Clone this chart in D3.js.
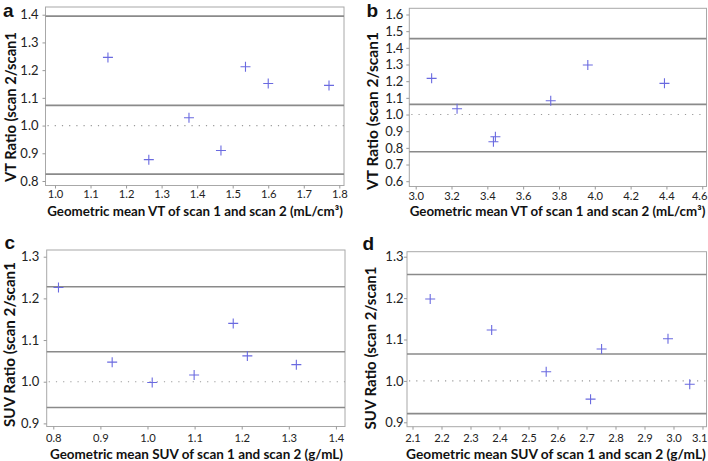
<!DOCTYPE html>
<html><head><meta charset="utf-8">
<script src="https://cdn.jsdelivr.net/npm/d3@7"></script>
<style>
html,body{margin:0;padding:0;background:#fff;}
svg{display:block;}
</style></head>
<body>
<svg id="chart" width="708" height="461"></svg>
<script>
// ---- data ----
const panelLetters = ["a", "b", "c", "d"];
const yTitles = ["VT Ratio (scan 2/scan1", "VT Ratio (scan 2/scan1", "SUV Ratio (scan 2/scan1", "SUV Ratio (scan 2/scan1"];
const xTitleVT = "Geometric mean VT of scan 1 and scan 2 (mL/cm\u00B3)";
const xTitleSUV = "Geometric mean SUV of scan 1 and scan 2 (g/mL)";

const aX = [1.149, 1.264, 1.377, 1.467, 1.536, 1.600, 1.771];
const aY = [1.246, 0.877, 1.028, 0.910, 1.212, 1.152, 1.145];
const aLimits = [1.395, 1.073, 0.825];
const aXTicks = [1.0, 1.1, 1.2, 1.3, 1.4, 1.5, 1.6, 1.7, 1.8];
const aYTicks = [0.8, 0.9, 1.0, 1.1, 1.2, 1.3, 1.4];

const bX = [3.089, 3.231, 3.434, 3.445, 3.754, 3.961, 4.389];
const bY = [1.217, 1.035, 0.837, 0.867, 1.083, 1.297, 1.187];
const bLimits = [1.455, 1.061, 0.777];
const bXTicks = [3.0, 3.2, 3.4, 3.6, 3.8, 4.0, 4.2, 4.4, 4.6];
const bYTicks = [0.6, 0.7, 0.8, 0.9, 1.0, 1.1, 1.2, 1.3, 1.4, 1.5, 1.6];

const cX = [0.811, 0.925, 1.010, 1.099, 1.182, 1.212, 1.316];
const cY = [1.226, 1.047, 0.998, 1.016, 1.140, 1.062, 1.041];
const cLimits = [1.228, 1.072, 0.938];
const cXTicks = [0.8, 0.9, 1.0, 1.1, 1.2, 1.3, 1.4];
const cYTicks = [0.9, 1.0, 1.1, 1.2, 1.3];

const dX = [2.161, 2.373, 2.561, 2.714, 2.752, 2.981, 3.056];
const dY = [1.198, 1.123, 1.022, 0.956, 1.077, 1.102, 0.992];
const dLimits = [1.257, 1.065, 0.921];
const dXTicks = [2.1, 2.2, 2.3, 2.4, 2.5, 2.6, 2.7, 2.8, 2.9, 3.0, 3.1];
const dYTicks = [0.9, 1.0, 1.1, 1.2, 1.3];

const refLine = 1.0;

// ---- layout ----
const panels = [
  {letter: panelLetters[0], xs: aX, ys: aY, limits: aLimits, xt: aXTicks, yt: aYTicks,
   xDom: [0.9733, 1.8132], yDom: [0.7838, 1.4278], L: 45.5, R: 344, T: 7, B: 185.5,
   yTitle: yTitles[0], xTitle: xTitleVT, yTitleX: 9.5, yTitleY: 107, yTitleLen: 150,
   xTitleX: 195, xTitleY: 216, xTitleLen: 296, letterX: 3, letterY: 16.7, yPad: 4, xPad: 2},
  {letter: panelLetters[1], xs: bX, ys: bY, limits: bLimits, xt: bXTicks, yt: bYTicks,
   xDom: [2.9643, 4.6237], yDom: [0.5682, 1.6372], L: 409.3, R: 706.5, T: 8.3, B: 186.5,
   yTitle: yTitles[1], xTitle: xTitleVT, yTitleX: 371.5, yTitleY: 111, yTitleLen: 158,
   xTitleX: 557.5, xTitleY: 216, xTitleLen: 296, letterX: 366.5, letterY: 16.7, yPad: 3, xPad: 2.5},
  {letter: panelLetters[2], xs: cX, ys: cY, limits: cLimits, xt: cXTicks, yt: cYTicks,
   xDom: [0.786, 1.4193], yDom: [0.8925, 1.3161], L: 46.7, R: 345, T: 250, B: 426.5,
   yTitle: yTitles[2], xTitle: xTitleSUV, yTitleX: 8.5, yTitleY: 344.5, yTitleLen: 165,
   xTitleX: 196.5, xTitleY: 458.5, xTitleLen: 293, letterX: 4.5, letterY: 249.3, yPad: 4.5, xPad: 5},
  {letter: panelLetters[3], xs: dX, ys: dY, limits: dLimits, xt: dXTicks, yt: dYTicks,
   xDom: [2.081, 3.1138], yDom: [0.8894, 1.3121], L: 407, R: 706.5, T: 251.7, B: 426.7,
   yTitle: yTitles[3], xTitle: xTitleSUV, yTitleX: 370, yTitleY: 348, yTitleLen: 163,
   xTitleX: 556, xTitleY: 458.5, xTitleLen: 300, letterX: 362.5, letterY: 250, yPad: 0.5, xPad: 4.8}
];

const svg = d3.select("#chart");
const fmt = d3.format(".1f");

// sets the font size so that a text's natural width equals the wanted length
function fitText(sel, baseSize, wanted) {
  sel.attr("font-size", baseSize);
  const w = sel.node().getComputedTextLength();
  sel.attr("font-size", (baseSize * wanted / w).toFixed(2));
}

panels.forEach(p => {
  const x = d3.scaleLinear().domain(p.xDom).range([p.L, p.R]);
  const y = d3.scaleLinear().domain(p.yDom).range([p.B, p.T]);
  const g = svg.append("g");

  // frame
  g.append("rect").attr("x", p.L).attr("y", p.T)
    .attr("width", p.R - p.L).attr("height", p.B - p.T)
    .attr("fill", "none").attr("stroke", "#a8a8a8").attr("stroke-width", 1);

  // limit lines
  g.selectAll(".lim").data(p.limits).enter().append("line")
    .attr("x1", p.L).attr("x2", p.R)
    .attr("y1", d => y(d)).attr("y2", d => y(d))
    .attr("stroke", "#8a8a8a").attr("stroke-width", 1.6);

  // reference dotted line
  g.append("line").attr("x1", p.L + 2).attr("x2", p.R)
    .attr("y1", y(refLine)).attr("y2", y(refLine))
    .attr("stroke", "#9a9a9a").attr("stroke-width", 1.1)
    .attr("stroke-dasharray", "1.2,6");

  // axes
  const ya = g.append("g").attr("transform", `translate(${p.L},0)`)
    .call(d3.axisLeft(y).tickValues(p.yt).tickFormat(fmt).tickSize(3).tickPadding(p.yPad));
  const xa = g.append("g").attr("transform", `translate(0,${p.B})`)
    .call(d3.axisBottom(x).tickValues(p.xt).tickFormat(fmt).tickSize(3).tickPadding(p.xPad));
  [ya, xa].forEach(a => {
    a.select(".domain").remove();
    a.selectAll(".tick line").attr("stroke", "#999");
  });
  ya.selectAll(".tick text").attr("font-family", "Lato, 'Open Sans', sans-serif")
    .attr("font-size", 13).attr("fill", "#222");
  const lastX = p.xt[p.xt.length - 1];
  xa.selectAll(".tick text").attr("font-family", "Lato, 'Open Sans', sans-serif")
    .attr("font-size", 11.2).attr("fill", "#222")
    .each(function(d) {
      // keep the label at the right edge of the window inside it
      if (d === lastX && x(d) + 7 > 708) {
        d3.select(this).attr("text-anchor", "end").attr("x", 708 - 1 - x(d));
      }
    });

  // points
  g.selectAll(".pt").data(p.xs.map((v, i) => [v, p.ys[i]])).enter().append("path")
    .attr("transform", d => `translate(${x(d[0])},${y(d[1])})`)
    .attr("d", "M-5,0H5M0,-5V5")
    .attr("stroke", "#6a6ae0").attr("stroke-width", 1.1).attr("fill", "none");

  // titles
  const yt = g.append("text").attr("transform", `translate(${p.yTitleX},${p.yTitleY}) rotate(-90)`)
    .attr("text-anchor", "middle").attr("dominant-baseline", "central")
    .attr("font-family", "Lato, sans-serif").attr("font-weight", "bold")
    .attr("fill", "#111")
    .text(p.yTitle);
  fitText(yt, 14, p.yTitleLen);
  const xt = g.append("text").attr("x", p.xTitleX).attr("y", p.xTitleY)
    .attr("text-anchor", "middle")
    .attr("font-family", "Lato, sans-serif").attr("font-weight", "bold")
    .attr("fill", "#111")
    .text(p.xTitle);
  fitText(xt, 14, p.xTitleLen);
  g.append("text").attr("x", p.letterX).attr("y", p.letterY)
    .attr("font-family", "'Liberation Sans', Arial, sans-serif").attr("font-weight", "bold")
    .attr("font-size", 19).attr("fill", "#111")
    .text(p.letter);
});
</script>
</body></html>
